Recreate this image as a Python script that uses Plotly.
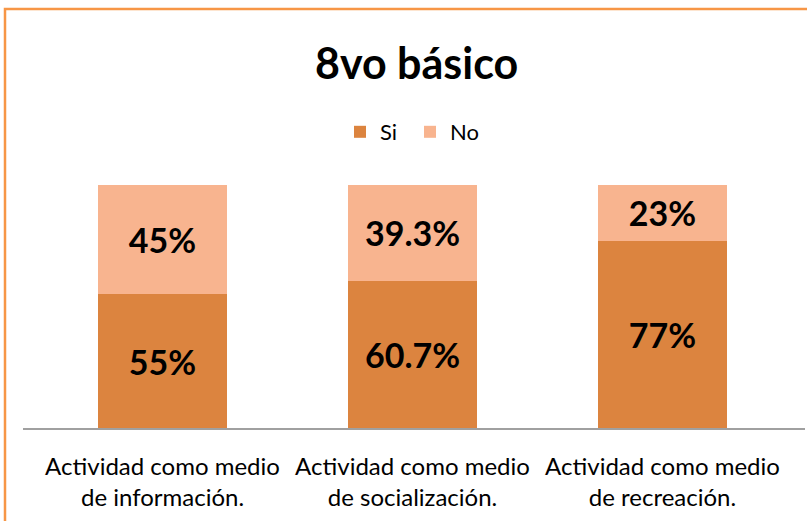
import plotly.graph_objects as go

# Data
categories = ["Actividad como medio<br>de información.",
              "Actividad como medio<br>de socialización.",
              "Actividad como medio<br>de recreación."]
si_values = [55, 60.7, 77]
no_values = [45, 39.3, 23]

si_color = "#DC843F"
no_color = "#F8B48F"
font_family = "Lato, 'Open Sans', sans-serif"

fig = go.Figure()
fig.add_trace(go.Bar(
    x=categories, y=si_values, name="Si",
    marker=dict(color=si_color, line=dict(width=0)),
    text=[f"{v:g}%" for v in si_values],
    textposition="inside", insidetextanchor="middle",
    textfont=dict(size=34, color="black", family=font_family, weight="bold"),
    hoverinfo="skip",
))
fig.add_trace(go.Bar(
    x=categories, y=no_values, name="No",
    marker=dict(color=no_color, line=dict(width=0)),
    text=[f"{v:g}%" for v in no_values],
    textposition="inside", insidetextanchor="middle",
    textfont=dict(size=34, color="black", family=font_family, weight="bold"),
    hoverinfo="skip",
))

# plot area: x 23..805, y 185..428 (pixels)
L, R, T, B = 23, 2, 185, 93
W, H = 807, 521
pw = W - L - R
ph = H - T - B

def px_x(p):
    return (p - L) / pw

def px_y(p):
    return (H - B - p) / ph

fig.update_layout(
    width=W, height=H,
    barmode="stack",
    bargap=0.484,
    margin=dict(l=L, r=R, t=T, b=B),
    paper_bgcolor="white",
    plot_bgcolor="white",
    font=dict(family=font_family, color="black"),
    showlegend=True,
    legend=dict(
        orientation="h",
        x=px_x(410), y=px_y(132),
        xanchor="center", yanchor="middle",
        font=dict(size=22, color="black"),
        itemwidth=30,
        entrywidth=25,
        traceorder="normal",
    ),
    xaxis=dict(
        type="category",
        range=[-0.558, 2.57],
        showline=True, linecolor="#A0A0A0", linewidth=2,
        showgrid=False, ticks="",
        tickfont=dict(size=24, color="black"),
        ticklabelstandoff=16,
        fixedrange=True,
    ),
    yaxis=dict(
        range=[0, 100],
        visible=False,
        showgrid=False,
        fixedrange=True,
    ),
    annotations=[
        dict(text="<b>8vo básico</b>", xref="paper", yref="paper",
             x=px_x(416), y=px_y(62), xanchor="center", yanchor="middle",
             showarrow=False, font=dict(size=43, color="black")),
    ],
    shapes=[
        dict(type="rect", xref="paper", yref="paper",
             x0=px_x(5), x1=px_x(815), y0=px_y(530), y1=px_y(9),
             line=dict(color="#F79646", width=2.5), fillcolor="rgba(0,0,0,0)",
             layer="above"),
    ],
)

fig.write_html("out.html", config={"displayModeBar": False},
               post_script="document.body.style.margin='0';")
